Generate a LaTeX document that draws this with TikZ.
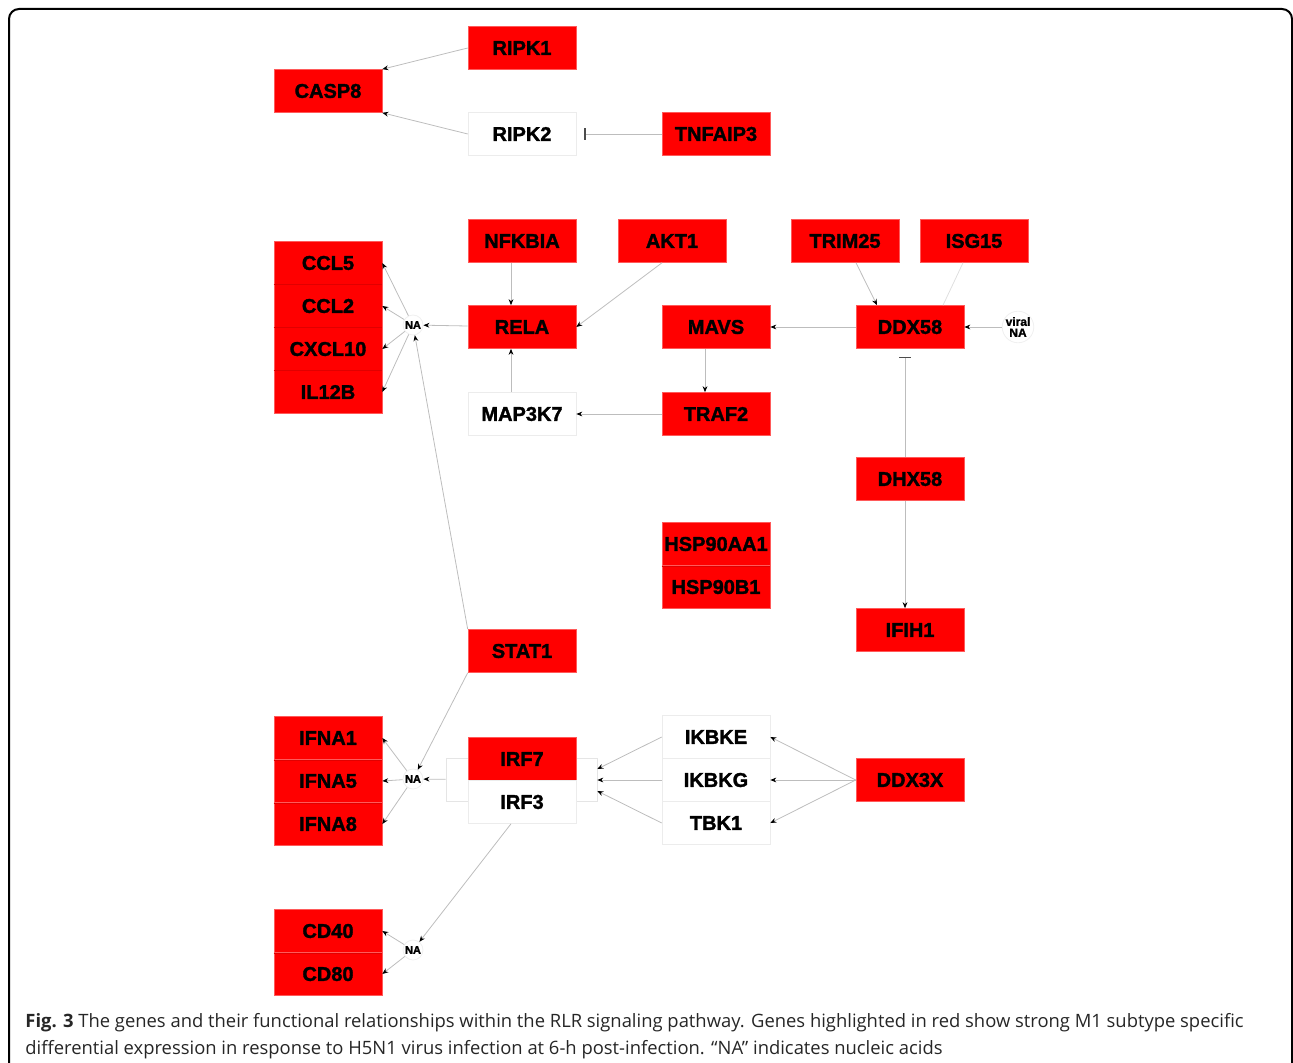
\documentclass[tikz,border=0pt]{standalone}
\usepackage{fontspec}
\setmainfont{Liberation Sans}
\newfontfamily\genefont{Liberation Sans}[BoldFeatures={FakeBold=1.6}]
\newfontfamily\captionfont{Open Sans}
\usetikzlibrary{arrows.meta}

\definecolor{genered}{HTML}{FF0000}
\definecolor{generim}{HTML}{FF5A5A}
\definecolor{genedivide}{HTML}{E00000}
\definecolor{edgegray}{HTML}{BDBDBD}

\begin{document}
\begin{tikzpicture}
    [
        x = 0.5pt, y = -0.5pt,
        gene/.style    = {fill=genered, draw=generim, line width=0.3pt, minimum width=54pt, minimum height=21.5pt, inner sep=0pt, font=\genefont\bfseries\fontsize{10}{12}\selectfont},
        plain/.style   = {gene, fill=white, draw=gray!15},
        hub/.style     = {circle, draw=gray!12, fill=white, minimum size=10pt, inner sep=0pt, font=\genefont\bfseries\fontsize{5.5}{6}\selectfont},
        link/.style    = {draw=edgegray, line width=0.4pt},
        divide/.style  = {draw=genedivide, line width=0.3pt},
        >={Stealth[length=3pt,width=2.4pt,color=black]},
        inhibit/.style = {link, -{Bar[width=6pt,line width=0.8pt,color=black!70]}, shorten >=4pt}
    ]
    \useasboundingbox (0,0) rectangle (1293,1063);
    \clip (0,0) rectangle (1293,1063);
    \draw [line width=1pt, rounded corners=5pt] (9,1120) rectangle (1292,9);

    % apoptosis
    \node [gene] at (328,91) (casp8) {CASP8};
    \node [gene] at (522,48) (ripk1) {RIPK1};
    \node [plain] at (522,134) (ripk2) {RIPK2};
    \node [gene] at (716,134) (tnfaip3) {TNFAIP3};

    % chemokines
    \node [gene] at (328,263) (ccl5) {CCL5};
    \node [gene] at (328,306) (ccl2) {CCL2};
    \node [gene] at (328,349) (cxcl10) {CXCL10};
    \node [gene] at (328,392) (il12b) {IL12B};
    \node [hub] at (413,325) (naA) {NA};

    % NF-kB branch
    \node [gene] at (522,241) (nfkbia) {NFKBIA};
    \node [gene] at (672,241) (akt1) {AKT1};
    \node [gene] at (522,327) (rela) {RELA};
    \node [plain] at (522,414) (map3k7) {MAP3K7};
    \node [gene] at (716,327) (mavs) {MAVS};
    \node [gene] at (716,414) (traf2) {TRAF2};

    % RIG-I
    \node [gene] at (845,241) (trim25) {TRIM25};
    \node [gene] at (974,241) (isg15) {ISG15};
    \node [gene] at (910,327) (ddx58) {DDX58};
    \node [hub, align=center, minimum size=14pt, font=\genefont\bfseries\fontsize{6}{5.5}\selectfont] at (1018,327) (viralna) {viral\\NA};
    \node [gene] at (910,479) (dhx58) {DHX58};
    \node [gene] at (910,630) (ifih1) {IFIH1};
    \node [gene] at (716,544) (hsp90aa1) {HSP90AA1};
    \node [gene] at (716,587) (hsp90b1) {HSP90B1};

    % interferons
    \node [gene] at (522,651) (stat1) {STAT1};
    \node [gene] at (328,738) (ifna1) {IFNA1};
    \node [gene] at (328,781) (ifna5) {IFNA5};
    \node [gene] at (328,824) (ifna8) {IFNA8};
    \node [hub] at (413,779) (naB) {NA};
    \node [draw=gray!20, fill=white, line width=0.3pt, minimum width=75.5pt, minimum height=21.5pt, inner sep=0pt] at (521.5,780) (irfcomplex) {};
    \node [gene] at (522,759) (irf7) {IRF7};
    \node [plain] at (522,802) (irf3) {IRF3};
    \node [plain] at (716,737) (ikbke) {IKBKE};
    \node [plain] at (716,780) (ikbkg) {IKBKG};
    \node [plain] at (716,823) (tbk1) {TBK1};
    \node [gene] at (910,780) (ddx3x) {DDX3X};

    % co-stimulation
    \node [gene] at (328,931) (cd40) {CD40};
    \node [gene] at (328,974) (cd80) {CD80};
    \node [hub] at (413,950) (naC) {NA};

    \foreach \a in {ccl5,ccl2,cxcl10,hsp90aa1,ifna1,ifna5,cd40}
        \draw [divide] (\a.south west) -- (\a.south east);

    \draw [link, ->] (ripk1.west) -- (casp8.north east);
    \draw [link, ->] (ripk2.west) -- (casp8.south east);
    \draw [inhibit] (tnfaip3) -- (ripk2);

    \foreach \g in {ccl5,ccl2,cxcl10,il12b}
        \draw [link, ->] (naA) -- (\g.east);
    \draw [link, ->] (rela) -- (naA);
    \draw [link, ->] ([xshift=-5.5pt]nfkbia.south) -- ([xshift=-5.5pt]rela.north);
    \draw [link, ->] ([xshift=-5pt]akt1.south) -- (rela.east);
    \draw [link, ->] ([xshift=-5.5pt]map3k7.north) -- ([xshift=-5.5pt]rela.south);
    \draw [link, ->] (ddx58) -- (mavs);
    \draw [link, ->] ([xshift=-5.5pt]mavs.south) -- ([xshift=-5.5pt]traf2.north);
    \draw [link, ->] (traf2) -- (map3k7);

    \draw [link, ->] ([xshift=5.5pt]trim25.south) -- ([xshift=-16.5pt]ddx58.north);
    \draw [link, draw=gray!25] ([xshift=-5.5pt]isg15.south) -- ([xshift=16.5pt]ddx58.north);
    \draw [link, ->] (viralna) -- (ddx58);
    \draw [inhibit] ([xshift=-2.5pt]dhx58.north) -- ([xshift=-2.5pt]ddx58.south);
    \draw [link, ->] ([xshift=-2.5pt]dhx58.south) -- ([xshift=-2.5pt]ifih1.north);

    \draw [link, ->] (stat1.north west) -- (naA);
    \draw [link, ->] (stat1.south west) -- (naB);
    \foreach \g in {ifna1,ifna5,ifna8}
        \draw [link, ->] (naB) -- (\g.east);
    \draw [link, ->] (irfcomplex) -- (naB);
    \draw [link, ->] (ikbke.west) -- ([yshift=5.5pt]irfcomplex.east);
    \draw [link, ->] (ikbkg) -- (irfcomplex);
    \draw [link, ->] (tbk1.west) -- ([yshift=-5.5pt]irfcomplex.east);
    \foreach \g in {ikbke,ikbkg,tbk1}
        \draw [link, ->] (ddx3x.west) -- (\g.east);

    \draw [link, ->] ([xshift=-5.5pt]irf3.south) -- (naC);
    \foreach \g in {cd40,cd80}
        \draw [link, ->] (naC) -- (\g.east);

    % caption
    \node [anchor=base west, inner sep=0pt, text=black!85, font=\captionfont\fontsize{9.2}{12}\selectfont] at (25,1027) (captiontop)
        {\textbf{Fig. 3} The genes and their functional relationships within the RLR signaling pathway. Genes highlighted in red show strong M1 subtype specific};
    \node [anchor=base west, inner sep=0pt, text=black!85, font=\captionfont\fontsize{9.2}{12}\selectfont] at (25,1054) (captionbottom)
        {differential expression in response to H5N1 virus infection at 6-h post-infection. “NA” indicates nucleic acids};
\end{tikzpicture}
\end{document}
